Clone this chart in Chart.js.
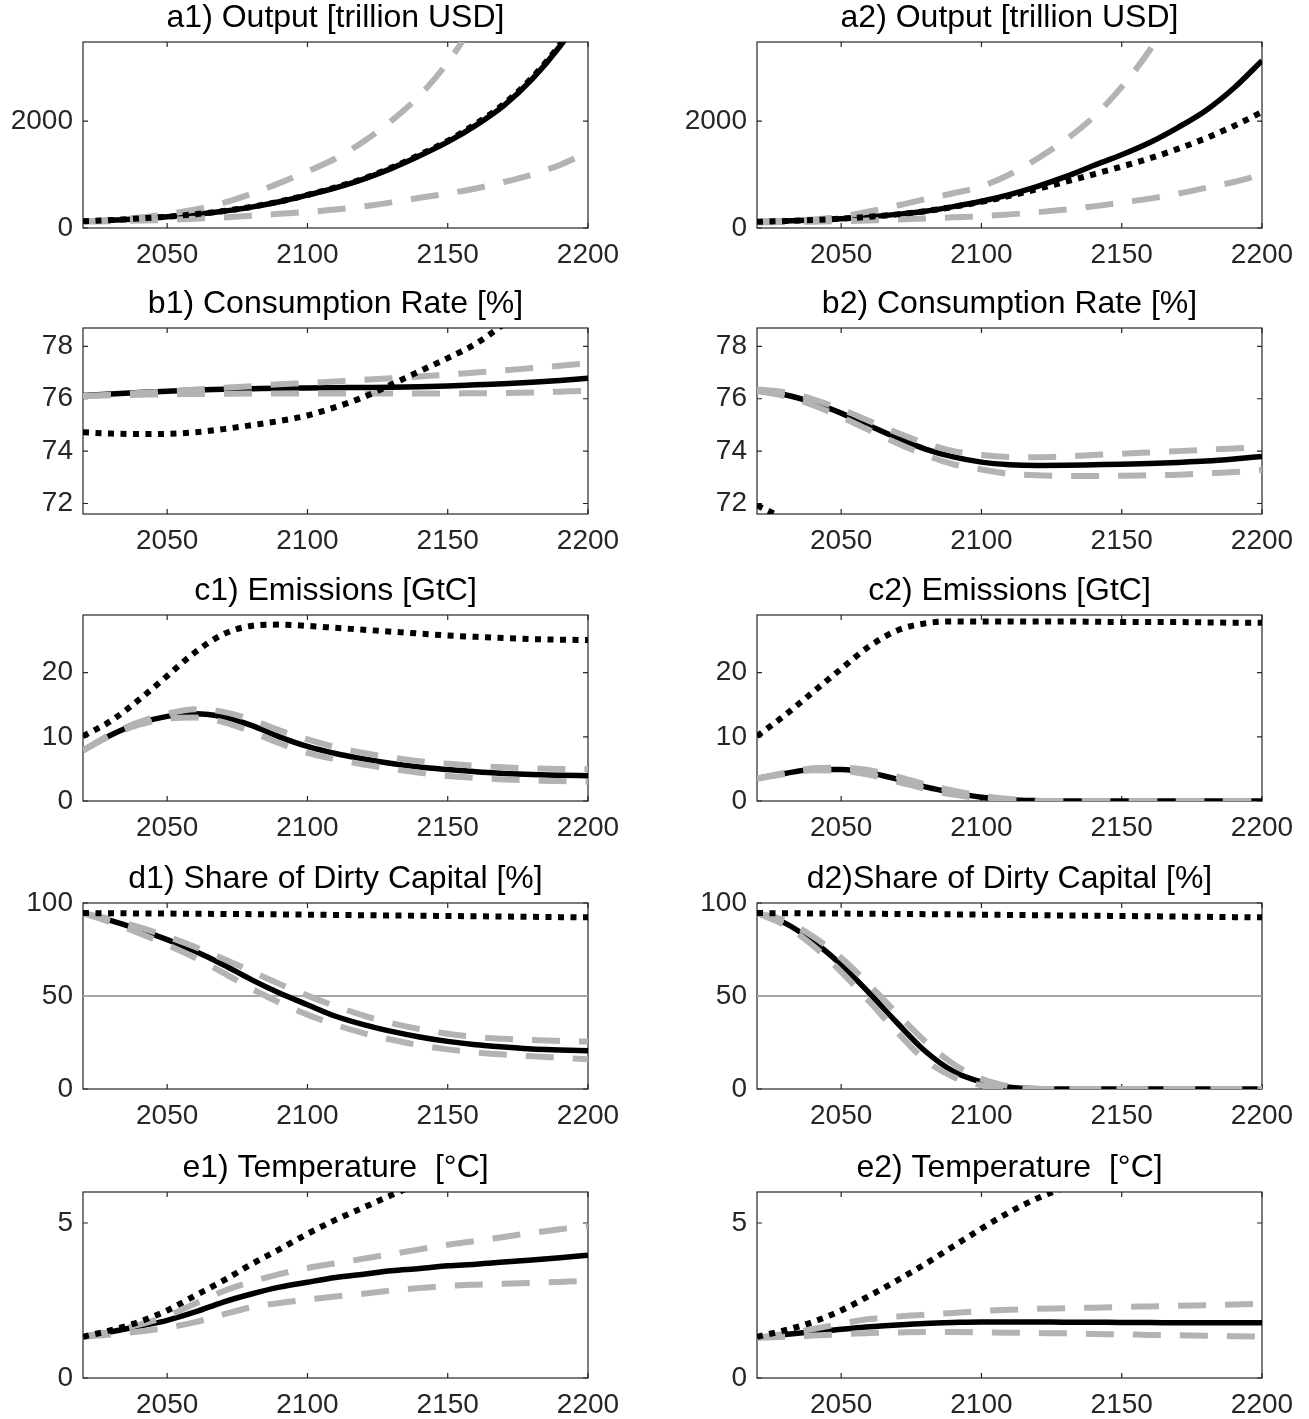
<!DOCTYPE html>
<html lang="en">
<head>
<meta charset="UTF-8"/>
<title>Policy scenarios 2020-2200</title>
<script src="https://cdn.jsdelivr.net/npm/chart.js@4.4.1/dist/chart.umd.min.js"></script>
<style>
  body{margin:0;background:#fff;width:1309px;height:1419px;position:relative;overflow:hidden}
  canvas{position:absolute}
</style>
</head>
<body>
<script>
// years every decade
const years = [2020,2030,2040,2050,2060,2070,2080,2090,2100,2110,2120,2130,2140,2150,2160,2170,2180,2190,2200];
const xTicks = [2050,2100,2150,2200];

// a) output [trillion USD]
const a1Solid  = [125,145,175,210,255,315,390,490,615,750,915,1115,1350,1610,1920,2290,2780,3400,4150];
const a1Dotted = [125,148,178,212,258,318,395,495,620,760,925,1130,1370,1630,1950,2320,2810,3430,4200];
const a1Upper  = [125,150,195,260,345,470,640,840,1060,1300,1620,2010,2480,3100,3900,4900,null,null,null];
const a1Lower  = [120,128,138,152,172,198,230,265,300,345,405,480,565,645,740,860,1000,1180,1420];
const a2Solid  = [115,130,150,175,210,255,315,400,500,625,780,960,1170,1370,1600,1880,2200,2620,3130];
const a2Dotted = [115,130,150,175,210,255,315,395,490,600,730,865,1005,1150,1305,1480,1680,1910,2170];
const a2Upper  = [120,135,160,215,310,420,540,650,780,1000,1300,1650,2080,2640,3330,4200,null,null,null];
const a2Lower  = [105,110,118,128,140,160,180,200,220,255,295,345,405,475,550,640,750,860,1000];

// b) consumption rate [%]
const b1Solid  = [76.12,76.18,76.24,76.29,76.33,76.36,76.38,76.40,76.41,76.42,76.43,76.44,76.46,76.49,76.53,76.57,76.63,76.70,76.78];
const b1Dotted = [74.72,74.67,74.65,74.66,74.72,74.84,74.99,75.15,75.36,75.68,76.06,76.55,77.05,77.55,78.10,78.85,79.70,80.60,81.60];
const b1Upper  = [76.10,76.15,76.22,76.28,76.35,76.42,76.48,76.55,76.60,76.66,76.72,76.78,76.85,76.92,77.00,77.08,77.17,77.26,77.36];
const b1Lower  = [76.10,76.13,76.15,76.17,76.18,76.19,76.20,76.20,76.20,76.20,76.20,76.20,76.20,76.20,76.21,76.22,76.24,76.27,76.30];
const b2Solid  = [76.32,76.15,75.85,75.45,74.97,74.50,74.08,73.78,73.58,73.48,73.45,73.46,73.48,73.50,73.53,73.57,73.62,73.70,73.80];
const b2Dotted = [71.93,71.40,70.80,null,null,null,null,null,null,null,null,null,null,null,null,null,null,null,null];
const b2Upper  = [76.35,76.25,75.98,75.60,75.15,74.70,74.30,74.00,73.85,73.78,73.77,73.80,73.85,73.90,73.95,74.00,74.05,74.10,74.17];
const b2Lower  = [76.30,76.10,75.75,75.30,74.80,74.30,73.85,73.50,73.30,73.13,73.08,73.05,73.05,73.06,73.08,73.10,73.15,73.20,73.28];

// c) emissions [GtC]
const c1Solid  = [7.9,10.3,12.1,13.2,13.6,13.1,11.8,10.0,8.5,7.4,6.55,5.85,5.3,4.9,4.55,4.3,4.12,4.02,3.95];
const c1Dotted = [10.1,12.5,15.8,19.5,23.2,26.0,27.3,27.5,27.3,27.0,26.7,26.4,26.1,25.8,25.6,25.4,25.25,25.15,25.1];
const c1Upper  = [7.9,10.4,12.3,13.6,14.3,13.9,12.7,11.0,9.6,8.4,7.5,6.8,6.2,5.8,5.5,5.25,5.1,5.0,4.95];
const c1Lower  = [7.9,10.2,11.9,12.8,13.0,12.3,10.8,9.0,7.5,6.5,5.7,5.0,4.4,3.9,3.6,3.35,3.2,3.1,3.0];
const c2Solid  = [3.5,4.3,4.9,4.9,4.4,3.4,2.2,1.3,0.6,0.2,0.05,0,0,0,0,0,0,0,0];
const c2Dotted = [10.1,13.4,17.0,20.6,24.1,26.6,27.7,28.0,28.0,28.0,28.0,28.0,27.95,27.9,27.9,27.9,27.85,27.8,27.8];
const c2Upper  = [3.5,4.4,5.1,5.2,4.8,3.8,2.6,1.6,0.8,0.3,0.05,0,0,0,0,0,0,0,0];
const c2Lower  = [3.5,4.2,4.8,4.7,4.1,3.0,1.9,1.0,0.4,0.1,0,0,0,0,0,0,0,0,0];

// d) share of dirty capital [%]
const d1Solid  = [94.6,90.5,85.7,80.3,74.0,66.8,58.8,51.6,45.3,39.1,34.6,31.0,28.0,25.6,23.8,22.6,21.5,21.0,20.6];
const d1Dotted = [94.6,94.5,94.4,94.3,94.2,94.1,94.0,93.9,93.75,93.6,93.45,93.3,93.15,93.0,92.85,92.7,92.55,92.4,92.3];
const d1Upper  = [94.6,91.2,87.0,82.0,76.3,70.0,63.3,56.5,50.2,44.5,39.5,35.4,32.2,29.7,28.0,27.0,26.3,25.8,25.5];
const d1Lower  = [94.6,89.5,83.8,77.5,70.5,62.5,54.0,46.5,40.0,34.5,30.0,26.5,23.5,21.3,19.7,18.5,17.6,16.8,16.0];
const d2Solid  = [94.6,89.2,79.4,66.8,51.6,35.5,20.3,9.5,3.8,0.9,0.1,0,0,0,0,0,0,0,0];
const d2Dotted = [94.6,94.5,94.4,94.3,94.2,94.1,94.0,93.9,93.75,93.6,93.45,93.3,93.15,93.0,92.85,92.7,92.55,92.4,92.3];
const d2Upper  = [94.6,90.5,82.0,70.5,56.0,40.5,25.5,13.5,5.5,1.5,0.2,0,0,0,0,0,0,0,0];
const d2Lower  = [94.6,88.0,77.0,63.0,47.0,30.5,15.5,6.5,2.0,0.3,0,0,0,0,0,0,0,0,0];
const dRefLine = 50;

// e) temperature [°C]
const e1Solid  = [1.33,1.49,1.67,1.86,2.13,2.45,2.71,2.93,3.09,3.24,3.35,3.46,3.53,3.62,3.67,3.74,3.81,3.88,3.96];
const e1Dotted = [1.33,1.54,1.81,2.18,2.66,3.14,3.67,4.15,4.65,5.10,5.50,5.90,6.30,null,null,null,null,null,null];
const e1Upper  = [1.33,1.50,1.72,2.00,2.40,2.80,3.10,3.35,3.55,3.70,3.85,4.00,4.15,4.30,4.42,4.55,4.68,4.80,4.90];
const e1Lower  = [1.33,1.40,1.50,1.62,1.80,2.05,2.28,2.42,2.53,2.63,2.72,2.82,2.90,2.97,3.01,3.04,3.07,3.10,3.13];
const e2Solid  = [1.30,1.40,1.49,1.57,1.65,1.71,1.76,1.79,1.81,1.81,1.81,1.80,1.80,1.79,1.79,1.78,1.78,1.78,1.78];
const e2Dotted = [1.33,1.54,1.81,2.18,2.65,3.15,3.68,4.25,4.82,5.35,5.80,6.15,6.45,null,null,null,null,null,null];
const e2Upper  = [1.30,1.42,1.58,1.75,1.90,1.98,2.04,2.10,2.16,2.20,2.23,2.25,2.27,2.29,2.31,2.33,2.35,2.37,2.39];
const e2Lower  = [1.30,1.33,1.37,1.41,1.45,1.47,1.48,1.48,1.47,1.46,1.45,1.44,1.42,1.41,1.39,1.38,1.36,1.35,1.33];

const FONT = "'Liberation Sans', Arial, Helvetica, sans-serif";
const colLeft = [83, 757];
const rowBottom = [228, 514, 801, 1089, 1378];
const boxW = 505, boxH = 186;

const panels = [
  {title:'a1) Output [trillion USD]', col:0, row:0, min:0, max:3480, yTicks:[0,2000], s:a1Solid, d:a1Dotted, u:a1Upper, l:a1Lower},
  {title:'a2) Output [trillion USD]', col:1, row:0, min:0, max:3480, yTicks:[0,2000], s:a2Solid, d:a2Dotted, u:a2Upper, l:a2Lower},
  {title:'b1) Consumption Rate [%]', col:0, row:1, min:71.6, max:78.7, yTicks:[72,74,76,78], s:b1Solid, d:b1Dotted, u:b1Upper, l:b1Lower},
  {title:'b2) Consumption Rate [%]', col:1, row:1, min:71.6, max:78.7, yTicks:[72,74,76,78], s:b2Solid, d:b2Dotted, u:b2Upper, l:b2Lower},
  {title:'c1) Emissions [GtC]', col:0, row:2, min:0, max:29, yTicks:[0,10,20], s:c1Solid, d:c1Dotted, u:c1Upper, l:c1Lower},
  {title:'c2) Emissions [GtC]', col:1, row:2, min:0, max:29, yTicks:[0,10,20], s:c2Solid, d:c2Dotted, u:c2Upper, l:c2Lower},
  {title:'d1) Share of Dirty Capital [%]', col:0, row:3, min:0, max:100, yTicks:[0,50,100], s:d1Solid, d:d1Dotted, u:d1Upper, l:d1Lower, ref:dRefLine},
  {title:'d2)Share of Dirty Capital [%]', col:1, row:3, min:0, max:100, yTicks:[0,50,100], s:d2Solid, d:d2Dotted, u:d2Upper, l:d2Lower, ref:dRefLine},
  {title:'e1) Temperature  [°C]', col:0, row:4, min:0, max:6, yTicks:[0,5], s:e1Solid, d:e1Dotted, u:e1Upper, l:e1Lower},
  {title:'e2) Temperature  [°C]', col:1, row:4, min:0, max:6, yTicks:[0,5], s:e2Solid, d:e2Dotted, u:e2Upper, l:e2Lower}
];

// matlab style box with inward ticks, drawn under the lines
const boxPlugin = {
  id: 'matlabBox',
  beforeDatasetsDraw(chart) {
    const {ctx, chartArea: a, scales: {x, y}} = chart;
    const tl = 5;
    ctx.save();
    ctx.strokeStyle = '#262626';
    ctx.lineWidth = 1.2;
    ctx.strokeRect(a.left, a.top, a.right - a.left, a.bottom - a.top);
    ctx.beginPath();
    x.ticks.forEach(t => {
      const px = x.getPixelForValue(t.value);
      ctx.moveTo(px, a.bottom); ctx.lineTo(px, a.bottom - tl);
      ctx.moveTo(px, a.top); ctx.lineTo(px, a.top + tl);
    });
    y.ticks.forEach(t => {
      const py = y.getPixelForValue(t.value);
      ctx.moveTo(a.left, py); ctx.lineTo(a.left + tl, py);
      ctx.moveTo(a.right, py); ctx.lineTo(a.right - tl, py);
    });
    ctx.stroke();
    ctx.restore();
  }
};

const pts = arr => years.map((yr, i) => ({x: yr, y: arr[i]}));

panels.forEach(p => {
  const cv = document.createElement('canvas');
  const top = rowBottom[p.row] - boxH - 46;
  cv.width = 83 + boxW + 45;
  cv.height = 46 + boxH + 50;
  cv.style.left = (colLeft[p.col] - 83) + 'px';
  cv.style.top = top + 'px';
  document.body.appendChild(cv);

  const line = {pointRadius: 0, fill: false, cubicInterpolationMode: 'monotone', spanGaps: false};
  const datasets = [
    {...line, data: pts(p.d), borderColor: '#000', borderWidth: 6, borderDash: [6, 6.5], order: 0},
    {...line, data: pts(p.u), borderColor: '#b3b3b3', borderWidth: 6, borderDash: [28, 19], order: 1},
    {...line, data: pts(p.l), borderColor: '#b3b3b3', borderWidth: 6, borderDash: [28, 19], order: 1},
    {...line, data: pts(p.s), borderColor: '#000', borderWidth: 5.5, order: 2}
  ];
  if (p.ref !== undefined) {
    datasets.push({...line, data: [{x: 2020, y: p.ref}, {x: 2200, y: p.ref}], borderColor: '#a6a6a6', borderWidth: 1.8, order: 3});
  }

  new Chart(cv, {
    type: 'line',
    data: {datasets},
    plugins: [boxPlugin],
    options: {
      responsive: false,
      animation: false,
      devicePixelRatio: 1,
      layout: {padding: {right: 45}},
      plugins: {
        legend: {display: false},
        tooltip: {enabled: false},
        title: {
          display: true, text: p.title, fullSize: false, color: '#000',
          font: {family: FONT, size: 32, weight: 'normal', lineHeight: 1},
          padding: {top: 6, bottom: 8}
        }
      },
      scales: {
        x: {
          type: 'linear', min: 2020, max: 2200,
          grid: {display: false, drawTicks: false}, border: {display: false},
          afterBuildTicks: s => { s.ticks = xTicks.map(v => ({value: v})); },
          afterFit: s => { s.height = 50; },
          ticks: {color: '#262626', font: {family: FONT, size: 28}, padding: 10, maxRotation: 0, autoSkip: false, callback: v => String(v)}
        },
        y: {
          type: 'linear', min: p.min, max: p.max,
          grid: {display: false, drawTicks: false}, border: {display: false},
          afterBuildTicks: s => { s.ticks = p.yTicks.map(v => ({value: v})); },
          afterFit: s => { s.width = 83; },
          ticks: {color: '#262626', font: {family: FONT, size: 28}, padding: 10, autoSkip: false, callback: v => String(v)}
        }
      }
    }
  });
});
</script>
</body>
</html>
